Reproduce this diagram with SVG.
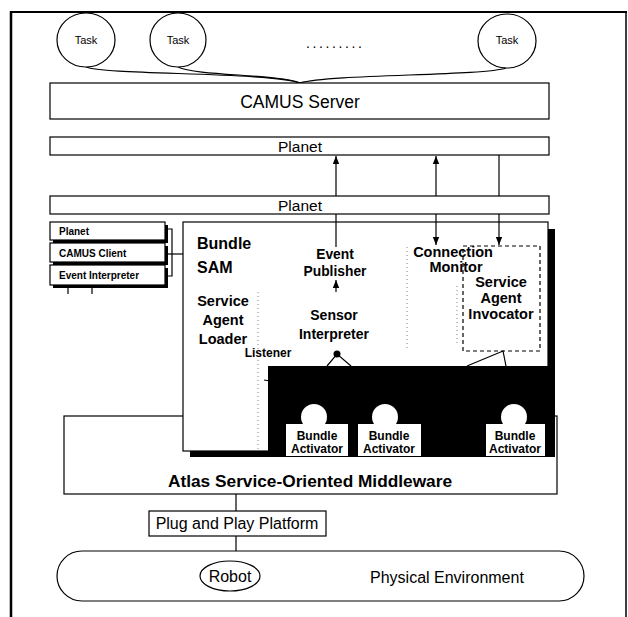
<svg xmlns="http://www.w3.org/2000/svg" width="628" height="617" viewBox="0 0 628 617">
<defs>
<style>
.box{fill:#fff;stroke:#000;stroke-width:1.2}
.ln{fill:none;stroke:#000;stroke-width:1.2}
.dot{fill:none;stroke:#888;stroke-width:1;stroke-dasharray:1 3}
.t{font-family:"Liberation Sans",Arial,sans-serif;fill:#000}
.b{font-family:"Liberation Sans",Arial,sans-serif;font-weight:bold;fill:#000}
.w{fill:#fff;stroke:none}
</style>
<marker id="ah" markerUnits="userSpaceOnUse" markerWidth="8" markerHeight="8" viewBox="0 0 8 8" refX="8" refY="4" orient="auto">
<path d="M0,0.8 L8,4 L0,7.2 Z" fill="#000"/>
</marker>
</defs>
<rect width="628" height="617" fill="#fff"/>
<!-- frame -->
<g id="frame">
<line x1="10" y1="12" x2="627" y2="12" stroke="#000" stroke-width="2"/>
<line x1="11" y1="11" x2="11" y2="617" stroke="#000" stroke-width="2.5"/>
<line x1="626" y1="11" x2="626" y2="617" stroke="#000" stroke-width="1.5"/>
</g>
<!-- connectors -->
<g id="connectors">
<path class="ln" d="M86,67 C105,75 270,72 300,83"/>
<path class="ln" d="M178,67 C196,76 280,74 300,83"/>
<path class="ln" d="M506,68 C484,76 330,74 300,83"/>
<line class="ln" x1="336" y1="196" x2="336" y2="156" marker-end="url(#ah)"/>
<line class="ln" x1="436" y1="196" x2="436" y2="156" marker-end="url(#ah)"/>
<line class="ln" x1="499" y1="196" x2="499" y2="155"/>
<polyline class="ln" points="165,229 172,229 172,276 165,276"/>
<line class="ln" x1="165" y1="254" x2="183" y2="254"/>
<line class="ln" x1="68" y1="288" x2="68" y2="294"/>
<line class="ln" x1="92" y1="288" x2="92" y2="294"/>
<line class="ln" x1="236" y1="494" x2="236" y2="511"/>
<line class="ln" x1="236" y1="536" x2="236" y2="561"/>
</g>
<!-- tasks -->
<g id="task1"><ellipse class="box" cx="86" cy="40" rx="29" ry="27"/><text class="t" x="86" y="44" font-size="11" text-anchor="middle">Task</text></g>
<g id="task2"><ellipse class="box" cx="178" cy="40" rx="28" ry="27"/><text class="t" x="178" y="44" font-size="11" text-anchor="middle">Task</text></g>
<g id="task3"><ellipse class="box" cx="507" cy="41" rx="29" ry="27"/><text class="t" x="507" y="44" font-size="11" text-anchor="middle">Task</text></g>
<g id="dots"><text class="t" x="306" y="48" font-size="14" letter-spacing="2.6">.........</text></g>
<!-- server + planets -->
<g id="camus-server"><rect class="box" x="50" y="83" width="499" height="36"/><text class="t" x="300" y="108" font-size="17.5" text-anchor="middle">CAMUS Server</text></g>
<g id="planet1"><rect class="box" x="50" y="137" width="499" height="18"/><text class="t" x="300" y="152" font-size="15.5" text-anchor="middle">Planet</text></g>
<g id="planet2"><rect class="box" x="50" y="196" width="499" height="18"/><text class="t" x="300" y="211" font-size="15.5" text-anchor="middle">Planet</text></g>
<!-- client stack -->
<g id="client-stack">
<rect x="53" y="225" width="115" height="18" fill="#000"/>
<rect class="box" x="50" y="222" width="115" height="18"/>
<text class="b" x="59" y="235" font-size="10">Planet</text>
<rect x="53" y="246" width="115" height="19" fill="#000"/>
<rect class="box" x="50" y="243" width="115" height="19"/>
<text class="b" x="59" y="257" font-size="10">CAMUS Client</text>
<rect x="53" y="268" width="115" height="20" fill="#000"/>
<rect class="box" x="50" y="265" width="115" height="20"/>
<text class="b" x="59" y="279" font-size="10">Event Interpreter</text>
</g>
<!-- Atlas middleware -->
<g id="atlas"><rect class="box" x="64" y="416" width="493" height="78"/><text class="b" x="310" y="487" font-size="16" text-anchor="middle" textLength="284" lengthAdjust="spacingAndGlyphs">Atlas Service-Oriented Middleware</text></g>
<!-- Bundle SAM -->
<g id="bundle-sam">
<rect class="box" x="183" y="222" width="365" height="229"/>
<rect x="548" y="229" width="7" height="140" fill="#000"/>
<rect x="190" y="451" width="80" height="6" fill="#000"/>
<rect x="268" y="366" width="287" height="91" fill="#000"/>
<text class="b" x="197" y="249" font-size="16">Bundle</text>
<text class="b" x="197" y="273" font-size="16">SAM</text>
<line class="dot" x1="258" y1="292" x2="258" y2="450"/>
<line class="dot" x1="407" y1="247" x2="407" y2="349"/>
<line class="dot" x1="457" y1="286" x2="457" y2="346"/>
</g>
<g id="service-agent-loader"><text class="b" font-size="14.5" text-anchor="middle"><tspan x="223" y="306">Service</tspan><tspan x="223" y="325">Agent</tspan><tspan x="223" y="344">Loader</tspan></text></g>
<g id="listener"><text class="b" x="268" y="357" font-size="12" text-anchor="middle">Listener</text><line class="ln" x1="264" y1="380" x2="270" y2="381"/></g>
<g id="event-publisher"><text class="b" font-size="13.8" text-anchor="middle"><tspan x="335" y="259">Event</tspan><tspan x="335" y="276">Publisher</tspan></text></g>
<g id="sensor-interpreter"><text class="b" font-size="14" text-anchor="middle"><tspan x="334" y="320">Sensor</tspan><tspan x="334" y="339">Interpreter</tspan></text></g>
<g id="connection-monitor"><text class="b" font-size="14.5" text-anchor="middle"><tspan x="453" y="257">Connection</tspan><tspan x="456" y="272">Monitor</tspan></text></g>
<g id="service-agent-invocator"><rect x="463" y="246" width="77" height="105" fill="none" stroke="#000" stroke-width="1.2" stroke-dasharray="4 3"/><text class="b" font-size="14.5" text-anchor="middle"><tspan x="501" y="287">Service</tspan><tspan x="501" y="303">Agent</tspan><tspan x="501" y="319">Invocator</tspan></text></g>
<g id="inner-connectors">
<line class="ln" x1="336" y1="214" x2="336" y2="247"/>
<line class="ln" x1="436" y1="214" x2="436" y2="245" marker-end="url(#ah)"/>
<line class="ln" x1="499" y1="214" x2="499" y2="245" marker-end="url(#ah)"/>
<line class="ln" x1="336" y1="292" x2="336" y2="280" marker-end="url(#ah)" stroke-width="1.5"/>
<polyline class="ln" points="327,366 337,354 351,366" stroke-width="1.6"/>
<circle cx="337" cy="354" r="3.5" fill="#000"/>
<polyline class="ln" points="467,366 503,351 506,366" stroke-width="1.6"/>
</g>
<g id="bundle-activator1"><circle class="w" cx="314" cy="417" r="13"/><rect class="w" x="286" y="424" width="62" height="32"/><text class="b" font-size="12" text-anchor="middle"><tspan x="317" y="440">Bundle</tspan><tspan x="317" y="453">Activator</tspan></text></g>
<g id="bundle-activator2"><circle class="w" cx="385" cy="417" r="13"/><rect class="w" x="358" y="424" width="63" height="32"/><text class="b" font-size="12" text-anchor="middle"><tspan x="389" y="440">Bundle</tspan><tspan x="389" y="453">Activator</tspan></text></g>
<g id="bundle-activator3"><circle class="w" cx="514" cy="417" r="13"/><rect class="w" x="486" y="424" width="59" height="32"/><text class="b" font-size="12" text-anchor="middle"><tspan x="515" y="440">Bundle</tspan><tspan x="515" y="453">Activator</tspan></text></g>
<!-- bottom -->
<g id="plug-and-play"><rect class="box" x="149" y="511" width="177" height="25"/><text class="t" x="237" y="529" font-size="16" text-anchor="middle">Plug and Play Platform</text></g>
<g id="physical-environment"><rect class="box" x="57" y="551" width="527" height="50" rx="25" ry="25"/><text class="t" x="370" y="583" font-size="16">Physical Environment</text></g>
<g id="robot"><ellipse class="box" cx="230" cy="576" rx="30" ry="15"/><text class="t" x="230" y="582" font-size="16" text-anchor="middle">Robot</text></g>
</svg>
